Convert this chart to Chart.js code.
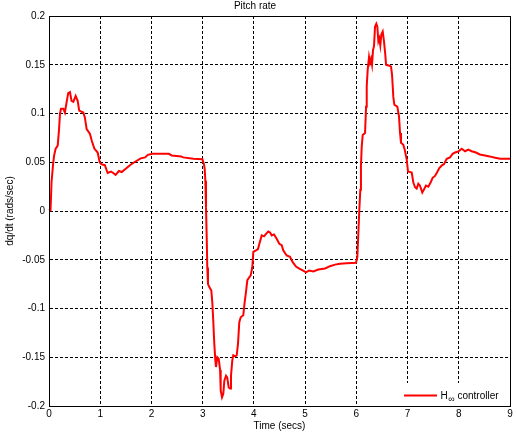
<!DOCTYPE html>
<html>
<head>
<meta charset="utf-8">
<script src="https://cdn.jsdelivr.net/npm/chart.js@4/dist/chart.umd.min.js"></script>
<style>
  html, body { margin: 0; padding: 0; background: #fff; }
  canvas { display: block; }
</style>
</head>
<body>
<canvas id="c" width="517" height="435"></canvas>
<script>
const chartTitle = 'Pitch rate';
const xAxisTitle = 'Time (secs)';
const yAxisTitle = 'dq/dt (rads/sec)';
const legendMain = 'H';
const legendSub = '\u221E';
const legendRest = ' controller';

const xTickLabels = ['0','1','2','3','4','5','6','7','8','9'];
const yTickLabels = ['-0.2','-0.15','-0.1','-0.05','0','0.05','0.1','0.15','0.2'];

const times = [
  0.00,0.03,0.05,0.08,0.10,0.13,0.17,0.195,0.215,0.235,0.28,0.31,0.345,0.375,0.41,0.44,0.475,0.52,0.56,0.59,
  0.67,0.70,0.735,0.80,0.835,0.885,0.95,0.99,1.02,1.09,1.145,1.21,1.255,1.30,1.365,1.42,1.515,1.58,1.665,1.79,
  1.875,1.93,2.02,2.34,2.395,2.58,2.62,2.82,2.995,3.025,3.04,3.052,3.065,3.079,3.09,3.104,3.13,3.169,3.188,3.208,
  3.227,3.247,3.26,3.286,3.313,3.34,3.352,3.378,3.403,3.423,3.456,3.48,3.508,3.534,3.553,3.579,3.598,3.637,3.665,3.69,
  3.715,3.743,3.793,3.82,3.846,3.872,3.91,3.938,3.969,3.989,4.04,4.08,4.11,4.153,4.198,4.237,4.281,4.315,4.348,4.393,
  4.445,4.496,4.543,4.575,4.64,4.705,4.758,4.822,4.887,4.953,5.018,5.08,5.16,5.258,5.389,5.486,5.584,5.68,5.81,5.994,
  6.02,6.039,6.058,6.078,6.09,6.105,6.125,6.17,6.19,6.203,6.222,6.248,6.267,6.287,6.306,6.326,6.345,6.365,6.39,6.41,
  6.43,6.449,6.468,6.488,6.515,6.54,6.566,6.58,6.644,6.677,6.697,6.722,6.742,6.80,6.833,6.853,6.872,6.917,6.944,6.983,
  7.009,7.081,7.112,7.146,7.178,7.21,7.243,7.288,7.32,7.36,7.405,7.452,7.49,7.536,7.58,7.62,7.667,7.71,7.765,7.829,
  7.88,7.927,7.99,8.057,8.122,8.186,8.25,8.336,8.41,8.512,8.6,8.71,8.81,9.0
];

const pitchRate = [
  0.002,0.001,0.03,0.048,0.057,0.064,0.067,0.083,0.100,0.105,0.105,0.101,0.112,0.121,0.122,0.113,0.112,0.118,0.113,0.103,
  0.101,0.096,0.084,0.079,0.072,0.064,0.060,0.050,0.048,0.047,0.039,0.0405,0.039,0.037,0.041,0.040,0.044,0.047,0.050,0.054,
  0.055,0.0576,0.0587,0.0587,0.057,0.056,0.055,0.0535,0.053,0.048,0.043,0.031,0.004,-0.027,-0.058,-0.075,-0.078,-0.0815,-0.0935,-0.114,
  -0.136,-0.153,-0.160,-0.150,-0.1515,-0.163,-0.184,-0.191,-0.1875,-0.174,-0.169,-0.171,-0.181,-0.182,-0.169,-0.153,-0.148,-0.149,-0.148,-0.136,
  -0.114,-0.109,-0.107,-0.0935,-0.083,-0.071,-0.068,-0.066,-0.0577,-0.042,-0.0405,-0.039,-0.033,-0.025,-0.026,-0.0234,-0.021,-0.022,-0.025,-0.024,
  -0.0285,-0.0336,-0.035,-0.0405,-0.0456,-0.047,-0.0525,-0.057,-0.059,-0.061,-0.063,-0.061,-0.062,-0.060,-0.059,-0.0566,-0.055,-0.054,-0.0535,-0.053,
  -0.047,-0.023,0.001,0.0217,0.0456,0.066,0.078,0.080,0.107,0.128,0.145,0.158,0.152,0.156,0.150,0.165,0.169,0.189,0.192,0.189,
  0.174,0.177,0.170,0.181,0.184,0.174,0.160,0.150,0.149,0.148,0.140,0.117,0.109,0.107,0.097,0.080,0.070,0.068,0.063,0.053,
  0.0405,0.0395,0.0295,0.0244,0.023,0.028,0.026,0.019,0.022,0.026,0.025,0.0295,0.034,0.036,0.040,0.044,0.0467,0.048,0.0535,0.055,
  0.0587,0.060,0.061,0.0638,0.0613,0.063,0.0613,0.060,0.058,0.057,0.056,0.0546,0.0535,0.0535
];

const FONT = 'Liberation Sans, Arial, Helvetica, sans-serif';
Chart.defaults.font.family = FONT;
Chart.defaults.font.size = 10;
Chart.defaults.color = '#000';

const framePlugin = {
  id: 'frameAndLegend',
  afterDraw(chart) {
    const ctx = chart.ctx;
    const a = chart.chartArea;
    ctx.save();
    // legend box
    const lx = 401, ly = 383, lw = a.right - 1 - 401, lh = a.bottom - 1 - 383;
    ctx.fillStyle = '#fff';
    ctx.fillRect(lx, ly, lw, lh);
    ctx.strokeStyle = '#ff0000';
    ctx.lineWidth = 2;
    ctx.beginPath();
    ctx.moveTo(404, 395.5);
    ctx.lineTo(437, 395.5);
    ctx.stroke();
    ctx.fillStyle = '#000';
    ctx.textBaseline = 'alphabetic';
    ctx.textAlign = 'left';
    ctx.font = '10px ' + FONT;
    let tx = 440.5;
    ctx.fillText(legendMain, tx, 399);
    tx += ctx.measureText(legendMain).width + 0.5;
    ctx.font = '9px ' + FONT;
    ctx.fillText(legendSub, tx, 402);
    tx += ctx.measureText(legendSub).width;
    ctx.font = '10px ' + FONT;
    ctx.fillText(legendRest, tx, 399);
    // axes box
    ctx.strokeStyle = '#000';
    ctx.lineWidth = 1;
    ctx.setLineDash([]);
    ctx.strokeRect(Math.round(a.left) + 0.5, Math.round(a.top) + 0.5,
                   Math.round(a.right) - Math.round(a.left), Math.round(a.bottom) - Math.round(a.top));
    ctx.restore();
  }
};

new Chart(document.getElementById('c'), {
  type: 'scatter',
  data: {
    datasets: [{
      label: legendMain + legendSub + legendRest,
      data: times.map((t, i) => ({ x: t, y: pitchRate[i] })),
      showLine: true,
      borderColor: '#ff0000',
      backgroundColor: '#ff0000',
      borderWidth: 2,
      pointRadius: 0,
      tension: 0,
      clip: false
    }]
  },
  options: {
    responsive: false,
    animation: false,
    devicePixelRatio: 1,
    layout: { padding: { left: 0, right: 7, top: 0, bottom: 0 } },
    plugins: {
      legend: { display: false },
      tooltip: { enabled: false },
      title: {
        display: true,
        text: chartTitle,
        color: '#000',
        font: { size: 10, weight: 'normal', family: FONT, lineHeight: 1.2 },
        padding: { top: 0, bottom: 4 }
      }
    },
    scales: {
      x: {
        type: 'linear',
        min: 0, max: 9,
        ticks: {
          stepSize: 1,
          padding: 2,
          maxRotation: 0,
          autoSkip: false,
          font: { size: 10, lineHeight: 1.2 },
          callback: (v) => xTickLabels[Math.round(v)] ?? ''
        },
        grid: { color: '#000', lineWidth: 1, drawTicks: false },
        border: { display: true, color: '#000', width: 1, dash: [3, 2] },
        title: {
          display: true, text: xAxisTitle,
          font: { size: 10, lineHeight: 1.2 },
          padding: { top: 0, bottom: 3 }
        },
        afterFit: (s) => { s.height = 29; }
      },
      y: {
        type: 'linear',
        min: -0.2, max: 0.2,
        ticks: {
          stepSize: 0.05,
          padding: 4,
          autoSkip: false,
          font: { size: 10, lineHeight: 1.2 },
          callback: (v) => yTickLabels[Math.round((v + 0.2) / 0.05)] ?? ''
        },
        grid: { color: '#000', lineWidth: 1, drawTicks: false },
        border: { display: true, color: '#000', width: 1, dash: [3, 2] },
        title: {
          display: true, text: yAxisTitle,
          font: { size: 10, lineHeight: 1.2 },
          padding: { top: 4.5, bottom: 0 }
        },
        afterFit: (s) => { s.width = 49; }
      }
    }
  },
  plugins: [framePlugin]
});
</script>
</body>
</html>
